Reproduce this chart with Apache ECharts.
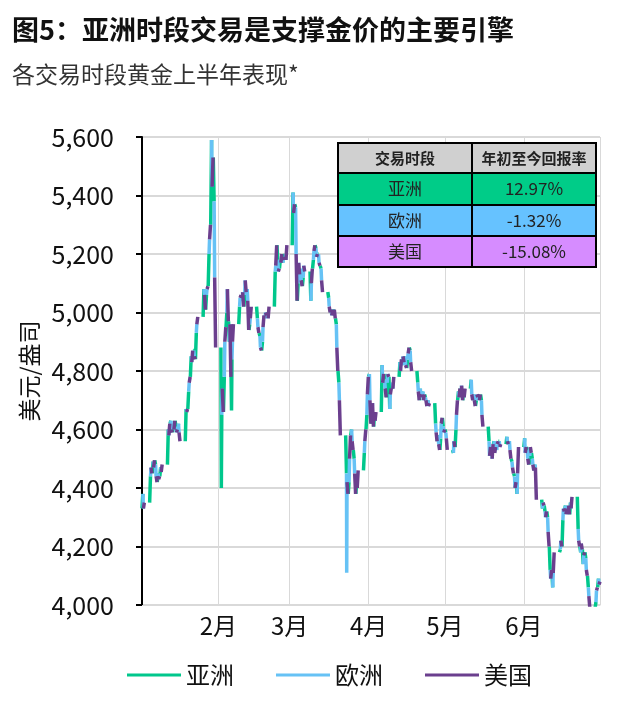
<!DOCTYPE html>
<html>
<head>
<meta charset="utf-8">
<script src="https://cdn.jsdelivr.net/npm/echarts@6/dist/echarts.min.js"></script>
<style>
  html, body { margin: 0; padding: 0; background: #fff; }
  #chart { width: 623px; height: 714px; }
</style>
</head>
<body>
<div id="chart"></div>
<script>
const FONT = '"Noto Sans CJK SC", "Noto Sans", sans-serif';

// trading days per month (month index 0 = Jan 2026)
const tradingDays = [
  [0, [2, 5, 6, 7, 8, 9, 12, 13, 14, 15, 16, 19, 20, 21, 22, 23, 26, 27, 28, 29, 30]],
  [1, [2, 3, 4, 5, 6, 9, 10, 11, 12, 13, 16, 17, 18, 19, 20, 23, 24, 25, 26, 27]],
  [2, [2, 3, 4, 5, 6, 9, 10, 11, 12, 13, 16, 17, 18, 19, 20, 23, 24, 25, 26, 27, 30, 31]],
  [3, [1, 2, 3, 6, 7, 8, 9, 10, 13, 14, 15, 16, 17, 20, 21, 22, 23, 24, 27, 28, 29, 30]],
  [4, [1, 4, 5, 6, 7, 8, 11, 12, 13, 14, 15, 18, 19, 20, 21, 22, 25, 26, 27, 28, 29]],
  [5, [1, 2, 3, 4, 5, 8, 9, 10, 11, 12, 15, 16, 17, 18, 19, 22, 23, 24, 25, 26, 29, 30]]
];

const openPrice = 4330;

// price at the end of each session, one value per trading day
const asiaClose = [
  4380, 4440, 4490, 4480, 4450, 4470, 4600, 4630, 4620, 4610, 4620, 4670, 4730, 4850, 4870, 4930, 5080, 5060, 5200, 5590, 5380,
  4650, 4780, 5000, 4900, 4840, 5020, 5040, 5060, 5080, 4960, 4980, 4920, 4900, 4980, 5000, 5140, 5180, 5180, 5170, 5200,
  5410, 5360, 5100, 5150, 5120, 5040, 5180, 5220, 5200, 5150, 5050, 5010, 5000, 4960, 4760, 4450, 4420, 4600, 4500, 4420, 4520, 4650,
  4790, 4640, 4650, 4820, 4770, 4760, 4670, 4760, 4830, 4820, 4850, 4840, 4870, 4760, 4740, 4730, 4710, 4700, 4620, 4580, 4570, 4610,
  4590, 4520, 4600, 4730, 4720, 4730, 4770, 4720, 4700, 4710, 4700, 4560, 4530, 4560, 4530, 4560, 4575, 4560, 4490, 4440, 4380,
  4570, 4530, 4510, 4500, 4480, 4330, 4320, 4300, 4120, 4060, 4190, 4290, 4340, 4320, 4350, 4260, 4180, 4140, 4160, 4060, 4010, 4090
];
const europeClose = [
  4330, 4470, 4470, 4440, 4430, 4455, 4580, 4600, 4600, 4590, 4590, 4660, 4760, 4830, 4850, 4960, 5060, 5080, 5250, 5430, 5120,
  4740, 4900, 5080, 4960, 4900, 5050, 5070, 5110, 5040, 4980, 4950, 4880, 4950, 5000, 4980, 5160, 5140, 5170, 5190, 5180,
  5340, 5200, 5170, 5110, 5160, 5100, 5210, 5190, 5170, 5110, 5020, 4990, 5010, 4880, 4700, 4420, 4500, 4560, 4450, 4400, 4560, 4720,
  4700, 4690, 4630, 4760, 4740, 4790, 4720, 4740, 4800, 4850, 4820, 4860, 4830, 4730, 4710, 4700, 4700, 4680, 4590, 4550, 4620, 4590,
  4570, 4560, 4650, 4710, 4750, 4710, 4720, 4700, 4720, 4700, 4650, 4510, 4500, 4520, 4550, 4540, 4560, 4530, 4470, 4400, 4450,
  4520, 4500, 4540, 4480, 4470, 4350, 4300, 4250, 4090, 4110, 4220, 4330, 4310, 4340, 4330, 4220, 4210, 4170, 4120, 4030, 4050, 4070
];
const usClose = [
  4350, 4450, 4495, 4420, 4440, 4480, 4620, 4590, 4630, 4600, 4560, 4670, 4780, 4870, 4840, 4985, 5010, 5090, 5300, 5530, 4880,
  4660, 4950, 4970, 4780, 4960, 5060, 5020, 5070, 4940, 5020, 4930, 4870, 4990, 4990, 5020, 5230, 5150, 5200, 5180, 5230,
  5370, 5040, 5130, 5090, 5140, 5150, 5230, 5200, 5160, 5070, 5000, 5010, 4980, 4800, 4580, 4380, 4580, 4530, 4380, 4460, 4600, 4780,
  4620, 4610, 4660, 4790, 4710, 4780, 4740, 4780, 4840, 4830, 4810, 4880, 4800, 4700, 4720, 4720, 4680, 4690, 4560, 4530, 4640, 4600,
  4530, 4540, 4700, 4740, 4700, 4740, 4700, 4680, 4710, 4720, 4610, 4540, 4550, 4540, 4560, 4550, 4550, 4500, 4450, 4420, 4540,
  4540, 4480, 4520, 4460, 4360, 4340, 4320, 4200, 4120, 4180, 4200, 4320, 4330, 4310, 4370, 4200, 4190, 4180, 4100, 3990, 4060, 4080
];

// spikes inside a session: [month, day, session, price]
const intradayExtremes = [
  [1, 2, 'asia', 4400],
  [1, 6, 'asia', 4665],
  [2, 23, 'europe', 4110]
];

const sessionNames = ['亚洲', '欧洲', '美国'];
const sessionColors = ['#00C78C', '#66C2F5', '#6B3F8E'];
const ytdReturns = ['12.97%', '-1.32%', '-15.08%'];
const tableFills = ['#00CC88', '#66C2FF', '#D68CFF'];
const yTicks = [4000, 5600, 200];

function ts(m, d, h) { return new Date(2026, m, d, h).getTime(); }

const asiaData = [], europeData = [], usData = [];
let prev = openPrice, k = 0;
tradingDays.forEach(([m, days]) => days.forEach(d => {
  const seg = (arr, name, h0, h1, v0, v1) => {
    arr.push([ts(m, d, h0), v0]);
    const ex = intradayExtremes.find(e => e[0] === m && e[1] === d && e[2] === name);
    if (ex) arr.push([ts(m, d, (h0 + h1) / 2), ex[3]]);
    arr.push([ts(m, d, h1), v1]);
    arr.push([ts(m, d, h1), '-']);
  };
  seg(asiaData, 'asia', 0, 8, prev, asiaClose[k]);
  seg(europeData, 'europe', 8, 13, asiaClose[k], europeClose[k]);
  seg(usData, 'us', 13, 22, europeClose[k], usClose[k]);
  prev = usClose[k];
  k++;
}));

// table drawn as graphic
const tX = [338, 472, 596];
const tY = [143, 173, 205, 236, 267];
const graphic = [
  { type: 'text', left: 12, top: 16, style: { text: '图5：亚洲时段交易是支撑金价的主要引擎', font: 'bold 27px ' + FONT, fill: '#111' } },
  { type: 'text', left: 12, top: 63, style: { text: '各交易时段黄金上半年表现*', font: '23px ' + FONT, fill: '#333' } }
];
const header = ['交易时段', '年初至今回报率'];
for (let r = 0; r < 4; r++) {
  for (let c = 0; c < 2; c++) {
    const fill = r === 0 ? '#D0D0D0' : tableFills[r - 1];
    const txt = r === 0 ? header[c] : (c === 0 ? sessionNames[r - 1] : ytdReturns[r - 1]);
    graphic.push({
      type: 'rect', z: 100,
      shape: { x: tX[c], y: tY[r], width: tX[c + 1] - tX[c], height: tY[r + 1] - tY[r] },
      style: { fill: fill, stroke: '#000', lineWidth: 2 }
    });
    graphic.push({
      type: 'text', z: 101,
      x: (tX[c] + tX[c + 1]) / 2, y: (tY[r] + tY[r + 1]) / 2,
      style: {
        text: txt, align: 'center', verticalAlign: 'middle',
        font: (r === 0 ? 'bold 15px ' : '17px ') + FONT, fill: '#222'
      }
    });
  }
}

const chart = echarts.init(document.getElementById('chart'));
chart.setOption({
  animation: false,
  textStyle: { fontFamily: FONT },
  grid: { left: 142, right: 23, top: 137, bottom: 109, containLabel: false },
  graphic: graphic,
  legend: {
    left: 122, top: 658, icon: 'rect', itemWidth: 54, itemHeight: 3, itemGap: 42,
    textStyle: { fontSize: 24, color: '#111', fontFamily: FONT },
    data: sessionNames
  },
  xAxis: {
    type: 'time',
    min: ts(0, 2, 0), max: ts(5, 30, 22),
    minInterval: 28 * 864e5, maxInterval: 32 * 864e5,
    axisLine: { show: true, lineStyle: { color: '#D9D9D9', width: 1 } },
    axisTick: { show: false },
    splitLine: { show: true, lineStyle: { color: '#D9D9D9', width: 1 } },
    axisLabel: {
      fontSize: 24, color: '#111', margin: 9, hideOverlap: false,
      formatter: v => { const dt = new Date(v); return dt.getDate() === 1 && dt.getHours() === 0 ? (dt.getMonth() + 1) + '月' : ''; }
    }
  },
  yAxis: {
    type: 'value', min: yTicks[0], max: yTicks[1], interval: yTicks[2],
    name: '美元/盎司', nameLocation: 'middle', nameGap: 100,
    nameTextStyle: { fontSize: 23, color: '#111' },
    axisLine: { show: true, lineStyle: { color: '#000', width: 2 } },
    axisTick: { show: true, length: 6, lineStyle: { color: '#000', width: 2 } },
    splitLine: { lineStyle: { color: '#D9D9D9', width: 2 } },
    axisLabel: { fontSize: 25, color: '#111', margin: 28, formatter: v => v.toLocaleString('en-US') }
  },
  series: [
    { name: sessionNames[0], data: asiaData },
    { name: sessionNames[1], data: europeData },
    { name: sessionNames[2], data: usData }
  ].map((s, i) => Object.assign(s, {
    type: 'line', symbol: 'none', showSymbol: false, connectNulls: false,
    lineStyle: { width: 3.5, color: sessionColors[i] },
    itemStyle: { color: sessionColors[i] },
    z: 2 + i
  }))
});
</script>
</body>
</html>
